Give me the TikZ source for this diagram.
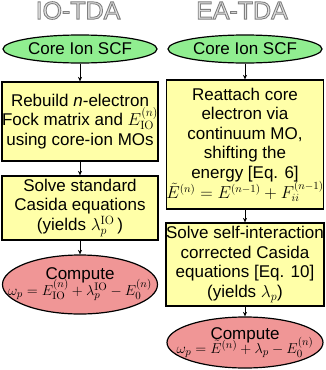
\documentclass[tikz,border=0pt]{standalone}
\usepackage[no-math]{fontspec}
\setmainfont{Liberation Sans}
\usetikzlibrary{shapes.geometric,arrows.meta}
\definecolor{cgreen}{RGB}{144,238,144}
\definecolor{cyellow}{RGB}{255,255,168}
\definecolor{cpink}{RGB}{240,150,150}
\definecolor{tfill}{RGB}{226,226,226}
\definecolor{tstroke}{RGB}{128,128,128}
\newcommand{\outl}[1]{{\color{tfill}\special{pdf:code 2 Tr 0.9 w 0.5 0.5 0.5 RG}#1\special{pdf:code 0 Tr}}}
\begin{document}
\begin{tikzpicture}[x=1pt,y=-1pt,
  every node/.style={font=\fontsize{17}{19.5}\selectfont},
  ttl/.style={font=\fontsize{25}{26}\selectfont, inner sep=0pt},
  startell/.style={ellipse, draw, line width=1.2pt, fill=cgreen, inner sep=0pt},
  endell/.style={ellipse, draw, line width=1.2pt, fill=cpink, inner sep=0pt},
  procbox/.style={rectangle, draw, line width=1.2pt, fill=cyellow, inner sep=0pt, align=center},
  arr/.style={-{Stealth[length=4.5pt,width=4pt]}, line width=0.8pt}
]
\useasboundingbox (0,0) rectangle (325,370);
% titles
\node[ttl] (t1) at (78,10.5) {\outl{IO-TDA}};
\node[ttl] (t2) at (242,10.5) {\outl{EA-TDA}};
% left column
\node[startell, minimum width=154pt, minimum height=28pt] (e1) at (80,49) {Core Ion SCF};
\node[procbox, minimum width=156pt, minimum height=79pt] (b1) at (80,121.5)
  {Rebuild \textit{n}-electron\\Fock matrix and $E_{\mathrm{IO}}^{(n)}$\\using core-ion MOs};
\node[procbox, minimum width=156pt, minimum height=64pt] (b2) at (80,208)
  {Solve standard\\Casida equations\\(yields $\lambda_p^{\mathrm{IO}}$\,)};
\node[endell, minimum width=155pt, minimum height=59pt] (c1) at (80,284.5) {};
\node[align=center, inner sep=0pt] (c1t) at (c1.center)
  {Compute\\[-4pt]{\fontsize{15.2}{17}\selectfont$\omega_p = E_{\mathrm{IO}}^{(n)} + \lambda_p^{\mathrm{IO}} - E_0^{(n)}$}};
% right column
\node[startell, minimum width=154pt, minimum height=28pt] (e2) at (245,49) {Core Ion SCF};
\node[procbox, minimum width=156pt, minimum height=129pt] (r1) at (245,144.5)
  {Reattach core\\electron via\\continuum MO,\\shifting the\\energy [Eq. 6]\\[-1pt]{\fontsize{16.3}{17}\selectfont$\tilde{E}^{(n)} = E^{(n-1)} + F_{ii}^{(n-1)}$}};
\node[procbox, minimum width=158pt, minimum height=83pt] (r2) at (245,264.5)
  {Solve self-interaction\\corrected Casida\\equations [Eq. 10]\\(yields $\lambda_p$)};
\node[endell, minimum width=156pt, minimum height=51pt] (c2) at (245,342.5) {};
\node[align=center, inner sep=0pt] (c2t) at (c2.center)
  {Compute\\[-5pt]{\fontsize{15.5}{17}\selectfont$\omega_p = \tilde{E}^{(n)} + \lambda_p - E_0^{(n)}$}};
% arrows
\draw[arr] (e1) -- (b1);
\draw[arr] (b1) -- (b2);
\draw[arr] (b2) -- (c1);
\draw[arr] (e2) -- (r1);
\draw[arr] (r1) -- (r2);
\draw[arr] (r2) -- (c2);
\end{tikzpicture}
\end{document}
